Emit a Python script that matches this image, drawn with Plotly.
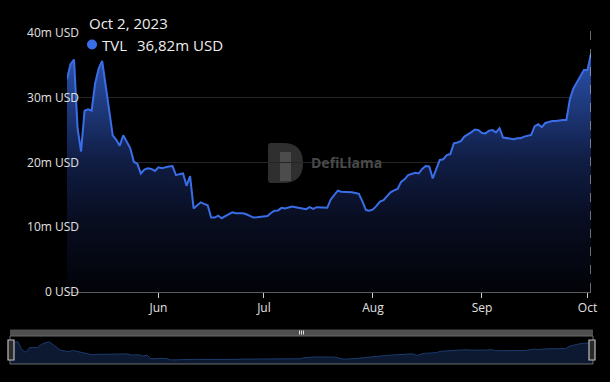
import pandas as pd
import plotly.graph_objects as go

# ---- data ----
start_date = "2023-05-06"
tvl = [
    32.85, 35.2, 35.9, 25.3, 21.7, 28.0, 28.2, 28.0, 32.2, 34.5,
    35.7, 31.6, 27.7, 24.2, 23.5, 22.6, 24.2, 23.1, 22.2, 20.1,
    19.8, 18.3, 18.9, 19.1, 19.0, 18.7, 19.25, 19.1, 19.3, 19.4,
    19.45, 18.05, 18.2, 18.3, 16.4, 17.9, 12.9, 13.4, 13.85, 13.6,
    13.4, 11.5, 11.5, 11.8, 11.4, 11.7, 12.0, 12.3, 12.15, 12.15,
    12.15, 12.0, 11.8, 11.5, 11.55, 11.6, 11.65, 11.75, 12.2, 12.55,
    12.6, 13.0, 12.9, 13.0, 13.2, 13.1, 13.0, 12.9, 12.8, 13.1,
    12.85, 13.1, 13.05, 13.0, 13.0, 14.3, 15.0, 15.65, 15.5, 15.5,
    15.45, 15.4, 15.3, 15.15, 14.0, 12.65, 12.55, 12.75, 13.3, 13.95,
    14.2, 14.8, 15.4, 15.7, 15.9, 17.0, 17.4, 18.05, 18.2, 18.4,
    18.3, 19.0, 19.45, 19.4, 17.55, 19.0, 20.4, 20.5, 21.15, 21.3,
    22.95, 23.1, 23.3, 24.0, 24.3, 24.7, 25.1, 25.0, 24.55, 24.5,
    24.9, 25.0, 24.65, 25.3, 23.85, 23.8, 23.7, 23.6, 23.75, 23.75,
    24.0, 24.1, 24.25, 25.6, 25.9, 25.45, 26.1, 26.25, 26.4, 26.4,
    26.5, 26.55, 26.55, 29.8, 31.45, 32.4, 33.4, 34.3, 34.3, 36.82,
]
dates = pd.date_range(start_date, periods=len(tvl), freq="D")

x_tickvals = ["2023-06-01", "2023-07-01", "2023-08-01", "2023-09-01", "2023-10-01"]
x_ticktext = ["Jun", "Jul", "Aug", "Sep", "Oct"]
y_tickvals = [0, 10, 20, 30, 40]
y_ticktext = ["0 USD", "10m USD", "20m USD", "30m USD", "40m USD"]
series_name = "TVL"

# ---- layout helpers (pixel -> paper) ----
W, H = 610, 382
ML, MR, MT, MB = 10, 17, 33, 18
PW, PH = W - ML - MR, H - MT - MB


def px(x):
    return (x - ML) / PW


def py(y):
    return (H - MB - y) / PH


LINE = "#3a6ee8"
FONT = "Open Sans"

fig = go.Figure()

fig.add_trace(go.Scatter(
    x=dates, y=tvl, mode="lines", name=series_name,
    line=dict(color=LINE, width=2),
    fill="tozeroy",
    fillgradient=dict(type="vertical", start=0, stop=37,
                      colorscale=[[0, "rgb(2,3,8)"], [0.3, "rgb(8,13,32)"],
                                  [0.55, "rgb(16,29,68)"], [1, "rgb(44,84,178)"]]),
    hoverinfo="skip", showlegend=False, xaxis="x", yaxis="y",
))

# mini overview (data zoom)
fig.add_trace(go.Scatter(
    x=dates, y=tvl, mode="lines",
    line=dict(color="#1c3a6c", width=1),
    fill="tozeroy", fillcolor="#0c1930",
    hoverinfo="skip", showlegend=False, xaxis="x2", yaxis="y2",
))

fig.update_layout(
    width=W, height=H,
    margin=dict(l=ML, r=MR, t=MT, b=MB),
    paper_bgcolor="#000000", plot_bgcolor="#000000",
    font=dict(family=FONT, color="#e0e0e0", size=12),
    xaxis=dict(
        domain=[px(67), px(591)], range=[dates[0], dates[-1]],
        tickvals=x_tickvals, ticktext=x_ticktext,
        showgrid=False, zeroline=False,
        showline=True, linecolor="#5a5a5a", linewidth=1,
        ticks="outside", ticklen=5, tickcolor="#cfcfcf", tickwidth=1,
        tickfont=dict(size=12, color="#e0e0e0"),
        anchor="y",
    ),
    yaxis=dict(
        domain=[py(292), 1], range=[0, 40],
        tickvals=y_tickvals, ticktext=y_ticktext,
        showgrid=True, gridcolor="#252525", gridwidth=1,
        zeroline=False, showline=False, ticks="",
        tickfont=dict(size=12, color="#e0e0e0"),
        ticklabelstandoff=-13,
        anchor="x",
    ),
    xaxis2=dict(domain=[0, 1], range=[dates[0], dates[-1]], visible=False, anchor="y2"),
    yaxis2=dict(domain=[0, py(336)], range=[6, 43.5], visible=False, anchor="x2"),
)

shapes = []
# hover dashed line at last point
shapes.append(dict(type="line", xref="x", yref="paper", x0=dates[-1], x1=dates[-1],
                   y0=py(292), y1=py(30), line=dict(color="#d0d0d0", width=1, dash="dash")))
# slider top bar
shapes.append(dict(type="rect", xref="paper", yref="paper", x0=px(10), x1=px(593),
                   y0=py(336), y1=py(329.5), fillcolor="#4f4f4f", line=dict(width=0)))
# slider grip marks
for gx in (299.5, 301.5, 303.5):
    shapes.append(dict(type="line", xref="paper", yref="paper", x0=px(gx), x1=px(gx),
                       y0=py(334.5), y1=py(330.5), line=dict(color="#dddddd", width=1)))
# slider frame
shapes.append(dict(type="rect", xref="paper", yref="paper", x0=px(10), x1=px(593),
                   y0=py(364), y1=py(336), fillcolor="rgba(0,0,0,0)",
                   line=dict(color="#6a6a6a", width=1)))
# handles
for hx in (11, 592):
    shapes.append(dict(type="rect", xref="paper", yref="paper", x0=px(hx - 3), x1=px(hx + 3),
                       y0=py(360), y1=py(340), fillcolor="#2a2a2a",
                       line=dict(color="#bdbdbd", width=1.2)))
# watermark logo (D shape)
x0, x1, y0, y1 = 268, 303, 143, 183
r = (y1 - y0) / 2
path = (f"M {px(x0+3)},{py(y0)} L {px(x1-r)},{py(y0)} "
        f"Q {px(x1)},{py(y0)} {px(x1)},{py(y0+r)} "
        f"Q {px(x1)},{py(y1)} {px(x1-r)},{py(y1)} "
        f"L {px(x0+3)},{py(y1)} Q {px(x0)},{py(y1)} {px(x0)},{py(y1-3)} "
        f"L {px(x0)},{py(y0+3)} Q {px(x0)},{py(y0)} {px(x0+3)},{py(y0)} Z")
shapes.append(dict(type="path", xref="paper", yref="paper", path=path,
                   fillcolor="#2f2f2f", line=dict(width=0), layer="below"))
shapes.append(dict(type="rect", xref="paper", yref="paper", x0=px(280), x1=px(291),
                   y0=py(181), y1=py(152), fillcolor="#4c4c4c", line=dict(width=0), layer="below"))
# tooltip bullet
shapes.append(dict(type="circle", xref="paper", yref="paper", x0=px(87), x1=px(97),
                   y0=py(49.5), y1=py(39.5), fillcolor=LINE, line=dict(width=0)))
fig.update_layout(shapes=shapes)

last_val = tvl[-1]
val_text = f"{last_val:.2f}".replace(".", ",") + "m USD"
date_text = f"{dates[-1].strftime('%b')} {dates[-1].day}, {dates[-1].year}"

ann = [
    dict(text=date_text, x=px(87), y=py(23), xanchor="left", yanchor="middle",
         font=dict(size=15, color="#eeeeee", family=FONT)),
    dict(text=series_name, x=px(100), y=py(45), xanchor="left", yanchor="middle",
         font=dict(size=15, color="#eeeeee", family=FONT)),
    dict(text=val_text, x=px(135), y=py(45), xanchor="left", yanchor="middle",
         font=dict(size=15, color="#eeeeee", family=FONT)),
    dict(text="<b>DefiLlama</b>", x=px(309), y=py(163), xanchor="left", yanchor="middle",
         font=dict(size=14, color="#4a4a4a", family=FONT)),
]
for a in ann:
    a.update(xref="paper", yref="paper", showarrow=False)
fig.update_layout(annotations=ann)

fig.write_html("out.html", config={"displayModeBar": False},
               post_script="document.body.style.margin='0';document.body.style.background='#000';")
